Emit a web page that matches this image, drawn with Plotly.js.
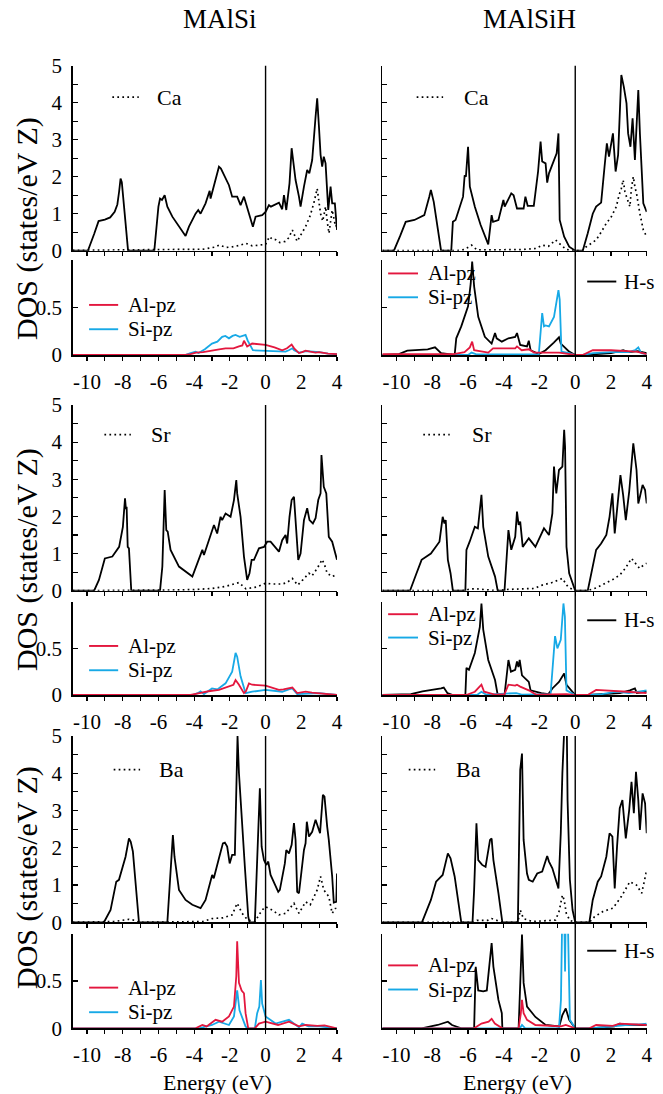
<!DOCTYPE html>
<html>
<head>
<meta charset="utf-8">
<script src="https://cdn.plot.ly/plotly-3.0.1.min.js"></script>
<style>html,body{margin:0;padding:0;background:#fff;}#plot{width:663px;height:1094px;}</style>
</head>
<body>
<div id="plot"></div>
<script>
// ---------- DATA (energy eV, DOS) ----------
const columnTitles = ['MAlSi', 'MAlSiH'];
const metals = ['Ca', 'Sr', 'Ba'];
const xTickVals = [-10,-9,-8,-7,-6,-5,-4,-3,-2,-1,0,1,2,3,4];

// Ca - MAlSi
const caSi_total = [[-10.8,0],[-9.95,0],[-9.6,0.45],[-9.35,0.8],[-9.0,0.84],[-8.7,0.9],[-8.45,1.05],[-8.3,1.25],[-8.2,1.6],[-8.12,1.95],[-8.05,1.85],[-7.95,1.4],[-7.85,0.8],[-7.7,0],[-6.23,0],[-6.0,1.19],[-5.91,1.41],[-5.8,1.37],[-5.65,1.5],[-5.5,1.19],[-5.22,0.92],[-4.48,0.4],[-4.29,0.65],[-3.92,1.0],[-3.77,1.1],[-3.64,1.0],[-3.36,1.28],[-3.13,1.62],[-3.08,1.41],[-2.61,2.27],[-2.5,2.22],[-2.05,1.77],[-1.87,1.46],[-1.59,1.46],[-1.5,1.37],[-1.4,1.23],[-1.21,1.46],[-1.1,1.28],[-0.71,0.65],[-0.56,0.92],[-0.19,0.96],[0,1.05],[0.19,1.23],[0.3,1.19],[0.75,1.3],[0.93,1.12],[1.03,1.5],[1.16,1.1],[1.34,1.82],[1.46,2.77],[1.59,2.18],[1.68,1.91],[1.87,1.46],[1.96,1.19],[2.15,1.73],[2.33,2.18],[2.45,2.09],[2.61,2.45],[2.8,3.62],[2.89,4.12],[2.99,3.35],[3.08,2.59],[3.17,2.27],[3.26,2.54],[3.36,2.36],[3.51,1.1],[3.64,1.73],[3.73,1.28],[3.88,1.28],[3.96,0.56],[4.0,0.56]];
const caSi_metal = [[-10.8,0.01],[-4.5,0.02],[-3.5,0.04],[-2.8,0.1],[-2.6,0.15],[-2.2,0.09],[-1.9,0.1],[-1.5,0.14],[-1.1,0.2],[-0.75,0.13],[-0.3,0.16],[0,0.17],[0.22,0.38],[0.4,0.3],[0.56,0.3],[0.8,0.22],[1.1,0.25],[1.3,0.35],[1.5,0.56],[1.65,0.4],[1.77,0.25],[2.0,0.45],[2.24,0.65],[2.5,0.95],[2.7,1.28],[2.89,1.68],[2.98,1.4],[3.08,1.0],[3.2,0.8],[3.36,1.19],[3.45,0.8],[3.55,0.47],[3.73,1.1],[3.85,0.8],[3.92,0.65],[4.0,0.7]];
const caSi_Alpz = [[-10.8,0],[-4.5,0],[-4.2,0.01],[-3.9,0.025],[-3.5,0.03],[-3.0,0.05],[-2.6,0.06],[-2.24,0.07],[-1.8,0.07],[-1.49,0.09],[-1.3,0.1],[-1.21,0.15],[-1.1,0.12],[-1.03,0.09],[-0.75,0.12],[-0.4,0.11],[0,0.105],[0.5,0.08],[0.93,0.05],[1.2,0.07],[1.46,0.11],[1.6,0.07],[1.87,0.02],[2.05,0.03],[2.24,0.045],[2.5,0.035],[2.8,0.025],[3.0,0.03],[3.5,0.015],[4.0,0.01]];
const caSi_Sipz = [[-10.8,0],[-4.5,0],[-4.2,0.02],[-3.92,0.035],[-3.75,0.02],[-3.4,0.06],[-3.0,0.12],[-2.7,0.14],[-2.43,0.19],[-2.25,0.2],[-2.05,0.175],[-1.85,0.2],[-1.68,0.21],[-1.45,0.19],[-1.12,0.21],[-1.0,0.15],[-0.71,0.05],[-0.3,0.045],[0,0.045],[0.5,0.04],[1.12,0.035],[1.3,0.05],[1.5,0.07],[1.6,0.05],[1.87,0.025],[2.3,0.04],[2.8,0.035],[3.0,0.03],[3.5,0.015],[3.92,0.01],[4.0,0.01]];

// Ca - MAlSiH
const caSiH_total = [[-10.8,0],[-10.15,0],[-9.8,0.4],[-9.49,0.78],[-9.0,0.83],[-8.45,0.96],[-8.17,1.46],[-8.08,1.64],[-7.92,1.32],[-7.7,0.65],[-7.51,0],[-6.94,0],[-6.85,0.78],[-6.7,0.83],[-6.45,1.2],[-6.28,1.46],[-6.19,2.04],[-6.12,2.0],[-6.0,2.81],[-5.9,1.73],[-5.62,1.19],[-5.3,0.7],[-4.87,0.17],[-4.68,0.96],[-4.6,0.78],[-4.3,0.83],[-4.02,1.37],[-3.95,1.19],[-3.58,1.55],[-3.45,1.5],[-3.26,1.14],[-2.89,1.14],[-2.79,1.46],[-2.66,1.21],[-2.32,1.21],[-2.08,2.14],[-1.94,2.95],[-1.85,2.41],[-1.66,2.36],[-1.57,1.84],[-1.47,2.09],[-1.28,2.32],[-1.04,2.63],[-0.94,3.17],[-0.87,0.83],[-0.62,0.38],[-0.34,0.11],[0,0],[0.42,0],[0.7,0.47],[0.98,1.0],[1.17,1.19],[1.45,1.3],[1.64,2.27],[1.77,2.9],[1.89,2.54],[2.02,2.86],[2.11,3.17],[2.26,2.14],[2.4,2.59],[2.58,4.75],[2.72,4.43],[2.87,3.98],[2.96,3.17],[3.09,2.81],[3.21,3.58],[3.34,2.45],[3.53,4.34],[3.62,3.17],[3.81,1.28],[4.0,1.05]];
const caSiH_metal = [[-10.8,0],[-6.6,0],[-6.2,0.03],[-5.8,0.15],[-5.5,0.02],[-4.5,0.02],[-3.0,0.03],[-2.2,0.06],[-1.85,0.15],[-1.5,0.12],[-1.1,0.29],[-0.9,0.2],[-0.5,0.03],[0,0],[0.4,0],[0.6,0.1],[0.9,0.2],[1.17,0.29],[1.45,0.5],[1.74,0.74],[2.0,0.9],[2.3,1.19],[2.45,1.5],[2.58,1.68],[2.68,1.91],[2.78,1.6],[2.87,1.46],[3.0,1.3],[3.06,1.19],[3.15,1.7],[3.25,2.0],[3.35,1.7],[3.43,1.55],[3.62,1.0],[3.81,0.56],[4.0,0.38]];
const caSiH_Alpz = [[-10.8,0.01],[-6.8,0.01],[-6.2,0.03],[-5.9,0.08],[-5.77,0.14],[-5.66,0.05],[-4.87,0.025],[-4.6,0.07],[-4.49,0.07],[-3.36,0.07],[-3.26,0.09],[-3.0,0.05],[-2.6,0.06],[-2.3,0.025],[-0.9,0.025],[0,0],[0.42,0],[0.98,0.05],[2.0,0.05],[2.8,0.04],[3.43,0.035],[4.0,0.01]];
const caSiH_Sipz = [[-10.8,0],[-6.0,0],[-5.8,0.025],[-5.5,0.005],[-2.2,0.005],[-2.04,0.01],[-1.85,0.44],[-1.75,0.3],[-1.66,0.31],[-1.47,0.3],[-1.19,0.4],[-0.94,0.68],[-0.87,0.58],[-0.77,0.035],[-0.34,0.02],[0,0],[0.42,0],[1.0,0.02],[2.0,0.03],[3.0,0.03],[3.35,0.05],[3.53,0.08],[3.7,0.02],[4.0,0.01]];
const caSiH_Hs = [[-10.8,0],[-9.87,0.01],[-9.4,0.045],[-8.8,0.05],[-8.26,0.06],[-7.85,0.08],[-7.51,0.02],[-6.75,0],[-6.66,0.175],[-6.38,0.3],[-6.0,0.51],[-5.85,0.75],[-5.77,0.98],[-5.66,0.72],[-5.43,0.4],[-5.06,0.19],[-4.68,0.12],[-4.49,0.23],[-4.4,0.175],[-4.11,0.14],[-3.74,0.175],[-3.36,0.19],[-3.26,0.23],[-3.08,0.105],[-2.7,0.09],[-2.6,0.15],[-2.5,0.05],[-2.04,0.01],[-1.66,0.05],[-1.2,0.13],[-0.91,0.185],[-0.81,0.12],[-0.34,0.035],[0,0],[0.42,0],[1.2,0.01],[2.0,0.02],[2.5,0.04],[2.68,0.05],[3.0,0.03],[3.5,0.04],[4.0,0.02]];

// Sr - MAlSi
const srSi_total = [[-10.8,0],[-9.6,0],[-9.33,0.29],[-9.0,0.87],[-8.58,0.92],[-8.2,1.18],[-7.99,1.72],[-7.87,2.49],[-7.82,2.2],[-7.78,2.26],[-7.72,1.18],[-7.65,1.14],[-7.52,0],[-5.91,0],[-5.78,0.65],[-5.65,2.71],[-5.56,1.63],[-5.48,1.59],[-5.32,1.1],[-4.85,0.65],[-4.1,0.38],[-3.73,0.83],[-3.54,1.1],[-3.45,0.96],[-3.17,1.36],[-2.89,1.77],[-2.71,1.54],[-2.52,1.99],[-2.43,1.9],[-2.24,2.08],[-1.96,1.99],[-1.87,2.22],[-1.77,2.44],[-1.64,2.98],[-1.59,2.62],[-1.4,1.99],[-1.21,0.92],[-1.03,0.29],[-0.9,0.47],[-0.78,0.83],[-0.65,0.83],[-0.37,1.14],[-0.09,1.18],[0.09,1.32],[0.28,1.32],[0.75,1.05],[0.93,1.36],[1.12,1.5],[1.21,1.27],[1.34,1.99],[1.46,2.44],[1.59,2.53],[1.72,1.45],[1.83,0.83],[1.96,1.0],[2.15,1.9],[2.33,2.22],[2.46,1.9],[2.65,1.81],[2.8,1.95],[2.95,2.44],[3.08,2.62],[3.13,3.65],[3.26,2.8],[3.4,2.62],[3.54,1.45],[3.73,1.32],[3.96,0.83],[4.0,0.83]];
const srSi_metal = [[-10.8,0],[-5.9,0],[-5.0,0.02],[-4.0,0.03],[-3.0,0.06],[-2.2,0.12],[-1.49,0.22],[-1.1,0.05],[-0.5,0.1],[0,0.2],[0.4,0.18],[0.93,0.18],[1.2,0.22],[1.5,0.33],[1.8,0.15],[2.1,0.3],[2.43,0.47],[2.6,0.4],[2.89,0.6],[3.17,0.84],[3.3,0.7],[3.45,0.47],[3.73,0.38],[3.92,0.42],[4.0,0.4]];
const srSi_Alpz = [[-10.8,0],[-4.2,0],[-3.7,0.02],[-3.2,0.04],[-2.61,0.055],[-2.05,0.09],[-1.8,0.11],[-1.68,0.16],[-1.49,0.11],[-1.21,0.02],[-1.1,0.04],[-0.93,0.125],[-0.75,0.11],[0,0.1],[0.75,0.055],[1.0,0.06],[1.31,0.07],[1.5,0.08],[1.77,0.02],[2.24,0.035],[2.6,0.025],[3.0,0.02],[3.5,0.01],[4.0,0]];
const srSi_Sipz = [[-10.8,0],[-4.1,0],[-3.8,0.02],[-3.64,0.04],[-3.45,0.01],[-3.2,0.04],[-3.0,0.07],[-2.7,0.06],[-2.24,0.125],[-1.87,0.25],[-1.75,0.4],[-1.68,0.45],[-1.59,0.41],[-1.4,0.2],[-1.12,0.02],[-0.75,0.035],[0,0.055],[0.93,0.035],[1.3,0.06],[1.5,0.07],[1.77,0.01],[2.5,0.02],[3.0,0.02],[4.0,0]];

// Sr - MAlSiH
const srSiH_total = [[-10.8,0],[-9.25,0],[-8.9,0.45],[-8.6,0.83],[-8.08,1.0],[-7.6,1.32],[-7.42,1.99],[-7.32,1.81],[-7.25,1.9],[-7.13,0.83],[-6.98,0.47],[-6.85,0],[-6.15,0],[-6.09,1.1],[-5.91,1.32],[-5.62,1.72],[-5.45,1.68],[-5.25,2.58],[-5.15,1.72],[-4.87,0.92],[-4.49,0.38],[-4.34,0],[-3.96,0],[-3.74,1.63],[-3.58,1.1],[-3.36,1.45],[-3.26,2.13],[-3.17,1.77],[-3.08,1.86],[-2.94,1.18],[-2.6,1.41],[-2.23,1.18],[-1.75,1.68],[-1.47,1.5],[-1.28,2.08],[-1.19,3.34],[-1.06,2.62],[-0.91,3.25],[-0.72,3.34],[-0.62,4.33],[-0.57,3.88],[-0.49,1.18],[-0.34,0.47],[0,0],[0.7,0],[1.17,1.1],[1.45,1.27],[1.74,1.5],[1.92,1.99],[2.08,2.62],[2.21,1.54],[2.34,2.17],[2.53,3.11],[2.68,2.58],[2.83,1.9],[3.02,2.67],[3.25,3.97],[3.43,3.25],[3.53,2.35],[3.62,2.53],[3.77,2.85],[3.91,2.71],[4.0,2.35]];
const srSiH_metal = [[-10.8,0],[-6.3,0],[-5.8,0.05],[-5.5,0.05],[-4.4,0],[-3.9,0.03],[-3.0,0.05],[-2.3,0.06],[-1.85,0.15],[-1.3,0.22],[-0.72,0.33],[-0.4,0.1],[0,0],[0.7,0],[1.2,0.08],[1.74,0.2],[2.1,0.3],[2.49,0.42],[2.8,0.6],[3.15,0.87],[3.35,0.74],[3.6,0.6],[3.8,0.68],[4.0,0.74]];
const srSiH_Alpz = [[-10.8,0],[-6.1,0],[-5.62,0.035],[-5.25,0.11],[-5.1,0.035],[-4.5,0.005],[-3.96,0.01],[-3.74,0.11],[-3.36,0.1],[-3.26,0.11],[-3.08,0.09],[-2.6,0.05],[-2.2,0.005],[-0.5,0.01],[0,0],[0.7,0],[1.17,0.055],[2.3,0.045],[2.9,0.035],[4.0,0.02]];
const srSiH_Sipz = [[-10.8,0],[-5.5,0],[-5.25,0.035],[-5.0,0.005],[-3.3,0.02],[-3.0,0.005],[-1.38,0.01],[-1.13,0.63],[-1.0,0.5],[-0.81,0.59],[-0.66,0.98],[-0.58,0.84],[-0.49,0.05],[0,0],[0.7,0],[1.5,0.01],[2.3,0.035],[3.0,0.02],[4.0,0.05]];
const srSiH_Hs = [[-10.8,0],[-9.2,0.01],[-8.55,0.04],[-7.8,0.06],[-7.51,0.07],[-7.36,0.08],[-7.15,0.02],[-6.85,0],[-6.15,0],[-6.09,0.29],[-5.95,0.27],[-5.62,0.45],[-5.34,0.73],[-5.25,0.98],[-5.15,0.7],[-4.87,0.375],[-4.49,0.16],[-4.34,0],[-3.96,0],[-3.74,0.375],[-3.6,0.25],[-3.36,0.27],[-3.26,0.36],[-3.18,0.3],[-3.11,0.375],[-2.98,0.21],[-2.6,0.14],[-2.5,0.05],[-1.9,0.02],[-1.5,0.01],[-1.28,0.07],[-0.91,0.14],[-0.62,0.23],[-0.49,0.11],[0,0],[0.7,0],[2.0,0.01],[2.5,0.02],[3.06,0.05],[3.34,0.07],[3.45,0.02],[4.0,0.035]];

// Ba - MAlSi
const baSi_total = [[-10.8,0],[-9.05,0],[-8.68,0.33],[-8.36,1.09],[-8.21,1.14],[-7.84,1.76],[-7.65,2.25],[-7.55,2.16],[-7.43,1.9],[-7.28,0.96],[-7.09,0],[-5.5,0],[-5.41,0.78],[-5.26,2.03],[-5.19,2.34],[-5.1,1.76],[-4.85,0.87],[-4.48,0.6],[-4.1,0.47],[-3.64,0.38],[-3.36,0.6],[-2.99,1.27],[-2.9,1.18],[-2.61,1.72],[-2.39,2.12],[-2.28,2.14],[-2.15,2.03],[-2.01,1.58],[-1.87,1.81],[-1.72,1.81],[-1.64,3.28],[-1.57,5.0],[-1.49,4.0],[-1.31,2.48],[-1.16,1.49],[-0.97,0.15],[-0.9,0],[-0.6,0],[-0.47,1.67],[-0.32,3.6],[-0.22,2.03],[-0.09,1.67],[0.04,1.54],[0.15,1.63],[0.28,1.27],[0.56,0.96],[0.71,0.82],[0.8,0.87],[1.08,1.58],[1.16,1.94],[1.31,1.85],[1.46,2.08],[1.59,2.66],[1.68,2.21],[1.77,0.82],[1.87,0.78],[2.15,1.94],[2.24,2.12],[2.31,2.7],[2.43,2.3],[2.61,2.43],[2.8,2.75],[2.95,2.52],[3.05,2.39],[3.21,3.42],[3.3,3.37],[3.45,2.57],[3.54,2.21],[3.73,1.23],[3.82,0.53],[3.96,0.55],[4.0,1.31]];
const baSi_metal = [[-10.8,0],[-9.0,0],[-8.5,0.02],[-7.65,0.08],[-7.3,0.05],[-7.09,0],[-5.5,0],[-5.0,0.02],[-3.5,0.02],[-3.0,0.1],[-2.4,0.12],[-1.87,0.2],[-1.59,0.51],[-1.31,0.24],[-1.0,0.06],[-0.6,0.02],[-0.19,0.33],[0,0.42],[0.37,0.33],[0.75,0.2],[1.12,0.24],[1.59,0.51],[1.87,0.24],[2.24,0.55],[2.5,0.47],[2.89,0.87],[3.08,1.23],[3.26,0.87],[3.54,0.69],[3.73,0.24],[3.92,0.38],[4.0,0.3]];
const baSi_Alpz = [[-10.8,0],[-3.92,0],[-3.54,0.035],[-3.3,0.02],[-2.8,0.09],[-2.43,0.07],[-2.05,0.125],[-1.77,0.23],[-1.64,0.55],[-1.59,0.92],[-1.49,0.48],[-1.34,0.4],[-1.21,0.37],[-1.12,0.16],[-0.97,0],[-0.6,0],[-0.37,0.05],[0,0.07],[0.7,0.035],[1.31,0.07],[1.87,0.02],[2.24,0.035],[2.9,0.025],[3.3,0.03],[4.0,0]];
const baSi_Sipz = [[-10.8,0],[-3.73,0],[-3.0,0.035],[-2.61,0.07],[-2.05,0.035],[-1.77,0.125],[-1.59,0.4],[-1.46,0.19],[-1.12,0.02],[-1.0,0],[-0.6,0],[-0.47,0.16],[-0.35,0.23],[-0.26,0.51],[-0.19,0.26],[0,0.125],[0.56,0.05],[1.31,0.09],[1.87,0.01],[2.05,0.05],[2.4,0.02],[3.0,0.02],[4.0,0]];

// Ba - MAlSiH
const baSiH_total = [[-10.8,0],[-8.58,0],[-8.08,0.6],[-7.79,1.09],[-7.42,1.27],[-7.13,1.85],[-6.98,1.72],[-6.75,1.23],[-6.38,0],[-5.75,0],[-5.66,0.87],[-5.53,2.66],[-5.43,1.67],[-5.21,1.54],[-5.02,1.49],[-4.77,2.21],[-4.68,2.25],[-4.58,1.67],[-4.3,0.78],[-4.08,0],[-3.21,0],[-3.08,4.09],[-2.98,4.53],[-2.89,2.21],[-2.7,1.31],[-2.6,1.14],[-2.38,1.09],[-2.13,1.31],[-1.85,1.36],[-1.57,1.78],[-1.47,1.63],[-1.28,1.45],[-0.94,0.91],[-0.81,2.39],[-0.72,4.0],[-0.62,6.5],[-0.5,6.5],[-0.43,3.28],[-0.3,1.14],[-0.15,0.33],[0,0],[0.79,0],[0.98,0.6],[1.26,1.09],[1.45,1.23],[1.74,1.76],[1.92,2.39],[2.08,2.3],[2.21,0.91],[2.34,2.03],[2.49,3.06],[2.64,3.28],[2.83,2.25],[3.02,3.01],[3.15,3.77],[3.28,2.93],[3.4,4.04],[3.53,3.28],[3.62,2.48],[3.77,3.46],[3.91,3.19],[4.0,2.39]];
const baSiH_metal = [[-10.8,0],[-8.5,0],[-8.0,0.02],[-6.5,0.02],[-6.38,0],[-5.7,0],[-5.5,0.05],[-4.9,0.05],[-4.68,0.1],[-4.3,0.03],[-4.08,0],[-3.21,0],[-3.08,0.33],[-2.9,0.1],[-2.4,0.02],[-1.1,0.06],[-0.9,0.3],[-0.72,0.73],[-0.62,0.6],[-0.5,0.24],[-0.3,0.05],[0,0],[0.79,0],[1.08,0.15],[1.55,0.29],[2.11,0.38],[2.58,0.69],[3.06,1.09],[3.43,1.0],[3.72,0.78],[4.0,1.4]];
const baSiH_Alpz = [[-10.8,0],[-5.66,0],[-5.25,0.05],[-4.85,0.07],[-4.68,0.1],[-4.5,0.05],[-4.08,0],[-3.17,0],[-3.05,0.15],[-2.98,0.3],[-2.89,0.16],[-2.7,0.09],[-2.23,0.035],[-0.8,0.02],[-0.53,0.035],[0,0],[0.79,0],[1.17,0.035],[2.1,0.025],[2.49,0.05],[4.0,0.035]];
const baSiH_Sipz = [[-10.8,0],[-3.1,0],[-2.98,0.035],[-2.8,0],[-0.91,0],[-0.8,0.3],[-0.72,1.3],[-0.62,1.3],[-0.57,0.6],[-0.53,1.3],[-0.43,1.3],[-0.3,0.09],[0,0],[0.79,0],[2.1,0.02],[2.8,0.035],[3.5,0.04],[3.9,0.05],[4.0,0.05]];
const baSiH_Hs = [[-10.8,0],[-8.6,0],[-7.7,0.035],[-7.13,0.07],[-6.9,0.035],[-6.38,0],[-5.66,0],[-5.57,0.65],[-5.43,0.4],[-5.15,0.39],[-4.95,0.4],[-4.77,0.69],[-4.68,0.9],[-4.58,0.65],[-4.3,0.3],[-4.11,0.16],[-4.08,0],[-3.17,0],[-3.08,0.51],[-2.98,0.99],[-2.89,0.48],[-2.7,0.23],[-2.23,0.12],[-1.66,0.035],[-0.9,0.02],[-0.72,0.14],[-0.53,0.21],[-0.34,0.09],[0,0],[0.79,0],[1.5,0.01],[2.2,0.02],[2.49,0.05],[3.0,0.035],[4.0,0.035]];

// ---------- LAYOUT GEOMETRY ----------
const W = 663, H = 1094;
const RED = '#e3173e', BLUE = '#17a9e6', BLACK = '#000';
const FONT = '"Liberation Serif", "Times New Roman", Times, "DejaVu Serif", serif';
const colX = [[72.7, 337], [382.3, 646.7]];            // px
const topY = [[65.7, 250.7], [405, 590.7], [736, 922.3]]; // px (top, bottom)
const botY = [[259.6, 355], [601.6, 695], [933.7, 1028.3]];
const yLabelCenter = [229, 560, 878];
const px2x = p => p / W;
const px2y = p => 1 - p / H;

const panels = [
  [{tot: caSi_total, met: caSi_metal, al: caSi_Alpz, si: caSi_Sipz}, {tot: caSiH_total, met: caSiH_metal, al: caSiH_Alpz, si: caSiH_Sipz, hs: caSiH_Hs}],
  [{tot: srSi_total, met: srSi_metal, al: srSi_Alpz, si: srSi_Sipz}, {tot: srSiH_total, met: srSiH_metal, al: srSiH_Alpz, si: srSiH_Sipz, hs: srSiH_Hs}],
  [{tot: baSi_total, met: baSi_metal, al: baSi_Alpz, si: baSi_Sipz}, {tot: baSiH_total, met: baSiH_metal, al: baSiH_Alpz, si: baSiH_Sipz, hs: baSiH_Hs}]
];

// legend placement (fractions within each panel domain)
const topLeg = [[[0.15,0.25,0.31,0.83],[0.13,0.23,0.30,0.83]],
                [[0.12,0.22,0.29,0.84],[0.155,0.255,0.33,0.84]],
                [[0.155,0.255,0.32,0.82],[0.10,0.20,0.27,0.82]]];
const botLegL = [[0.525,0.27],[0.525,0.265],[0.43,0.17]];
const botLegR = [[0.855,0.605,0.77],[0.865,0.615,0.80],[0.665,0.41,0.82]];

const data = [];
const layout = {
  width: W, height: H, margin: {l:0, r:0, t:0, b:0},
  paper_bgcolor: '#fff', plot_bgcolor: 'rgba(0,0,0,0)',
  showlegend: false, font: {family: FONT, color: '#000', size: 20},
  shapes: [], annotations: []
};

const xs = a => a.map(p => p[0]);
const ys = a => a.map(p => p[1]);

let idx = 0;
for (let r = 0; r < 3; r++) {
  for (let c = 0; c < 2; c++) {
    const P = panels[r][c];
    for (let p = 0; p < 2; p++) {
      idx++;
      const xa = 'x' + idx, ya = 'y' + idx;
      const xk = 'xaxis' + idx, yk = 'yaxis' + idx;
      const yPx = p === 0 ? topY[r] : botY[r];
      layout[xk] = {
        domain: [px2x(colX[c][0]), px2x(colX[c][1])], anchor: ya,
        range: [-10.8, 4], showline: true, linewidth: 1.5, linecolor: '#000',
        zeroline: false, showgrid: false, ticks: 'outside', ticklen: 4, tickwidth: 1.2, tickcolor: '#000',
        tickvals: xTickVals,
        ticktext: xTickVals.map(v => (p === 1 && v % 2 === 0) ? String(v) : ''),
        showticklabels: p === 1, tickfont: {size: 21, family: FONT}, ticklabelstandoff: 3
      };
      if (p === 0) {
        const tv = [0,0.5,1,1.5,2,2.5,3,3.5,4,4.5,5];
        layout[yk] = {
          domain: [px2y(yPx[1]), px2y(yPx[0])], anchor: xa, range: [0, 5],
          showline: true, linewidth: 1.5, linecolor: '#000', zeroline: false, showgrid: false,
          ticks: 'inside', ticklen: 5, tickwidth: 1.2, tickcolor: '#000',
          tickvals: tv, ticktext: tv.map(v => (c === 0 && Number.isInteger(v)) ? String(v) : ''),
          tickfont: {size: 21, family: FONT}, ticklabelstandoff: 5
        };
      } else {
        layout[yk] = {
          domain: [px2y(yPx[1]), px2y(yPx[0])], anchor: xa, range: [0, 1],
          showline: true, linewidth: 1.5, linecolor: '#000', zeroline: false, showgrid: false,
          ticks: 'inside', ticklen: 5, tickwidth: 1.2, tickcolor: '#000',
          tickvals: [0, 0.5, 1], ticktext: c === 0 ? ['0', '0.5', ''] : ['', '', ''],
          tickfont: {size: 21, family: FONT}, ticklabelstandoff: 5
        };
      }
      if (p === 0) {
        data.push({x: xs(P.met), y: ys(P.met), xaxis: xa, yaxis: ya, mode: 'lines',
          line: {color: BLACK, width: 1.7, dash: '1.7px,3.3px'}});
        data.push({x: xs(P.tot), y: ys(P.tot), xaxis: xa, yaxis: ya, mode: 'lines',
          line: {color: BLACK, width: 1.8}});
        const L = topLeg[r][c];
        layout.shapes.push({type: 'line', xref: xa + ' domain', yref: ya + ' domain',
          x0: L[0], x1: L[1], y0: L[3], y1: L[3], line: {color: BLACK, width: 1.7, dash: '1.7px,3.3px'}});
        layout.annotations.push({xref: xa + ' domain', yref: ya + ' domain', x: L[2], y: L[3],
          xanchor: 'left', yanchor: 'middle', showarrow: false, text: metals[r], font: {size: 22, family: FONT}});
      } else {
        if (P.hs) {
          data.push({x: xs(P.hs), y: ys(P.hs), xaxis: xa, yaxis: ya, mode: 'lines',
            line: {color: BLACK, width: 1.8}});
        }
        data.push({x: xs(P.si), y: ys(P.si), xaxis: xa, yaxis: ya, mode: 'lines',
          line: {color: BLUE, width: 1.8}});
        data.push({x: xs(P.al), y: ys(P.al), xaxis: xa, yaxis: ya, mode: 'lines',
          line: {color: RED, width: 1.8}});
        let ly, lx0, lx1, tx;
        if (c === 0) { ly = botLegL[r]; lx0 = 0.062; lx1 = 0.172; tx = 0.2; }
        else { ly = botLegR[r]; lx0 = 0.022; lx1 = 0.135; tx = 0.165; }
        layout.shapes.push({type: 'line', xref: xa + ' domain', yref: ya + ' domain',
          x0: lx0, x1: lx1, y0: ly[0], y1: ly[0], line: {color: RED, width: 1.9}});
        layout.shapes.push({type: 'line', xref: xa + ' domain', yref: ya + ' domain',
          x0: lx0, x1: lx1, y0: ly[1], y1: ly[1], line: {color: BLUE, width: 1.9}});
        layout.annotations.push({xref: xa + ' domain', yref: ya + ' domain', x: tx, y: ly[0],
          xanchor: 'left', yanchor: 'middle', showarrow: false, text: 'Al-pz', font: {size: 21, family: FONT}});
        layout.annotations.push({xref: xa + ' domain', yref: ya + ' domain', x: tx, y: ly[1],
          xanchor: 'left', yanchor: 'middle', showarrow: false, text: 'Si-pz', font: {size: 21, family: FONT}});
        if (P.hs) {
          layout.shapes.push({type: 'line', xref: xa + ' domain', yref: ya + ' domain',
            x0: 0.775, x1: 0.885, y0: ly[2], y1: ly[2], line: {color: BLACK, width: 1.9}});
          layout.annotations.push({xref: xa + ' domain', yref: ya + ' domain', x: 0.905, y: ly[2],
            xanchor: 'left', yanchor: 'middle', showarrow: false, text: 'H-s', font: {size: 21, family: FONT}});
        }
      }
    }
    // Fermi level line spanning both panels
    layout.shapes.push({type: 'line', xref: 'x' + (idx - 1), yref: 'paper', x0: 0, x1: 0,
      y0: px2y(botY[r][1]), y1: px2y(topY[r][0]), line: {color: BLACK, width: 1.4}});
  }
  // y-axis title per row
  layout.annotations.push({xref: 'paper', yref: 'paper', x: px2x(27), y: px2y(yLabelCenter[r]),
    xanchor: 'center', yanchor: 'middle', textangle: -90, showarrow: false,
    text: 'DOS (states/eV Z)', font: {size: 30, family: FONT}});
}

// column titles and x-axis titles
[220, 529].forEach((cx, i) => {
  layout.annotations.push({xref: 'paper', yref: 'paper', x: px2x(cx), y: px2y(19), xanchor: 'center', yanchor: 'middle',
    showarrow: false, text: columnTitles[i], font: {size: 27, family: FONT}});
});
[217, 517].forEach(cx => {
  layout.annotations.push({xref: 'paper', yref: 'paper', x: px2x(cx), y: px2y(1082), xanchor: 'center', yanchor: 'middle',
    showarrow: false, text: 'Energy (eV)', font: {size: 22, family: FONT}});
});

Plotly.newPlot('plot', data, layout, {staticPlot: true, displayModeBar: false});
</script>
</body>
</html>
